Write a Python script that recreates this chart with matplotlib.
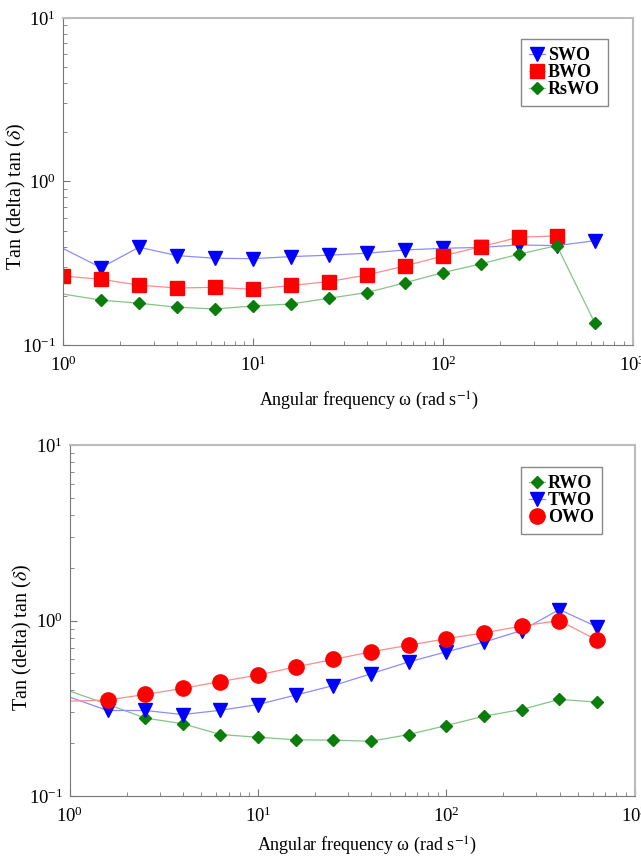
import numpy as np
import matplotlib
matplotlib.use('Agg')
import matplotlib.pyplot as plt

plt.rcParams['font.family'] = ['Liberation Serif', 'DejaVu Serif']
plt.rcParams['mathtext.fontset'] = 'stix'

# angular frequency points (rad/s), 5 per decade
freq = [0.631, 1.0, 1.585, 2.512, 3.981, 6.31, 10.0, 15.85, 25.12, 39.81,
        63.1, 100.0, 158.5, 251.2, 398.1, 631.0]

nan = np.nan
# top panel
swo = [0.51, nan, 0.297, 0.396, 0.352, 0.339, 0.337, 0.347, 0.354, 0.364,
       0.381, 0.39, 0.395, 0.409, 0.405, 0.434]
bwo = [nan, 0.264, 0.252, 0.232, 0.223, 0.225, 0.219, 0.231, 0.244, 0.268,
       0.304, 0.35, 0.399, 0.456, 0.464, nan]
rswo = [0.223, nan, 0.188, 0.18, 0.17, 0.166, 0.173, 0.178, 0.193, 0.209,
        0.24, 0.277, 0.313, 0.359, 0.405, 0.136]

# bottom panel
rwo = [0.47, nan, 0.333, 0.278, 0.258, 0.224, 0.216, 0.209, 0.208, 0.205,
       0.224, 0.252, 0.285, 0.311, 0.355, 0.343]
two = [0.435, nan, 0.307, 0.307, 0.291, 0.308, 0.332, 0.376, 0.426, 0.497,
       0.581, 0.663, 0.753, 0.877, 1.155, 0.92]
owo = [0.342, nan, 0.352, 0.379, 0.41, 0.449, 0.489, 0.544, 0.60, 0.663,
       0.723, 0.787, 0.851, 0.929, 1.0, 0.773]


def plot_series(ax, values, label, marker, ms, color, line_color):
    x = np.array(freq)
    y = np.array(values)
    keep = ~np.isnan(y)
    ax.plot(x[keep], y[keep], color=line_color, lw=0.9, marker=marker,
            markersize=ms, markerfacecolor=color, markeredgecolor=color,
            label=label)


def style_axes(ax, legend_anchor, ylabel_xy, xlabel_xy):
    ax.set_xscale('log')
    ax.set_yscale('log')
    ax.set_xlim(1, 1000)
    ax.set_ylim(0.1, 10)
    ax.tick_params(which='both', direction='in', labelsize=13.5, colors='#777777',
                   labelcolor='black', top=False, right=False)
    ax.tick_params(which='major', length=5)
    ax.tick_params(axis='x', which='major', pad=8)
    ax.tick_params(axis='y', which='major', pad=5)
    ax.tick_params(which='minor', length=3)
    for side in ['left', 'bottom']:
        ax.spines[side].set_color('#777777')
    for side in ['top', 'right']:
        ax.spines[side].set_color('#bbbbbb')
        ax.spines[side].set_linewidth(1.5)
    ax.set_xlabel('Angular frequency ω (rad s$^{-1}$)', fontsize=13)
    ax.xaxis.set_label_coords(*xlabel_xy)
    ax.set_ylabel('Tan (delta) tan ($\\delta$)', fontsize=14.5)
    ax.yaxis.set_label_coords(*ylabel_xy)
    leg = ax.legend(loc='upper right', bbox_to_anchor=legend_anchor,
                    borderaxespad=0,
                    prop={'weight': 'bold', 'size': 13}, handlelength=0.9,
                    handletextpad=0.15, labelspacing=0.0, borderpad=0.45,
                    fancybox=False, framealpha=1, edgecolor='#888888')
    leg.get_frame().set_linewidth(1.0)


fig = plt.figure(figsize=(6.41, 8.58), dpi=100)

ax1 = fig.add_axes([0.0983, 0.598, 0.889, 0.381])
plot_series(ax1, swo, 'SWO', 'v', 9.5, '#0000ff', '#8c8cff')
plot_series(ax1, bwo, 'BWO', 's', 10, '#ff0000', '#ff8c8c')
plot_series(ax1, rswo, 'RsWO', 'D', 6, '#0a7d0a', '#86c486')
style_axes(ax1, (0.956, 0.936), (-0.061, 0.453), (0.537, -0.138))

ax2 = fig.add_axes([0.109, 0.0723, 0.881, 0.409])
plot_series(ax2, rwo, 'RWO', 'D', 6, '#0a7d0a', '#86c486')
plot_series(ax2, two, 'TWO', 'v', 9.5, '#0000ff', '#8c8cff')
plot_series(ax2, owo, 'OWO', 'o', 11, '#ff0000', '#ff8c8c')
style_axes(ax2, (0.942, 0.937), (-0.064, 0.453), (0.527, -0.11))

fig.savefig('out.png', dpi=100, facecolor='white')
